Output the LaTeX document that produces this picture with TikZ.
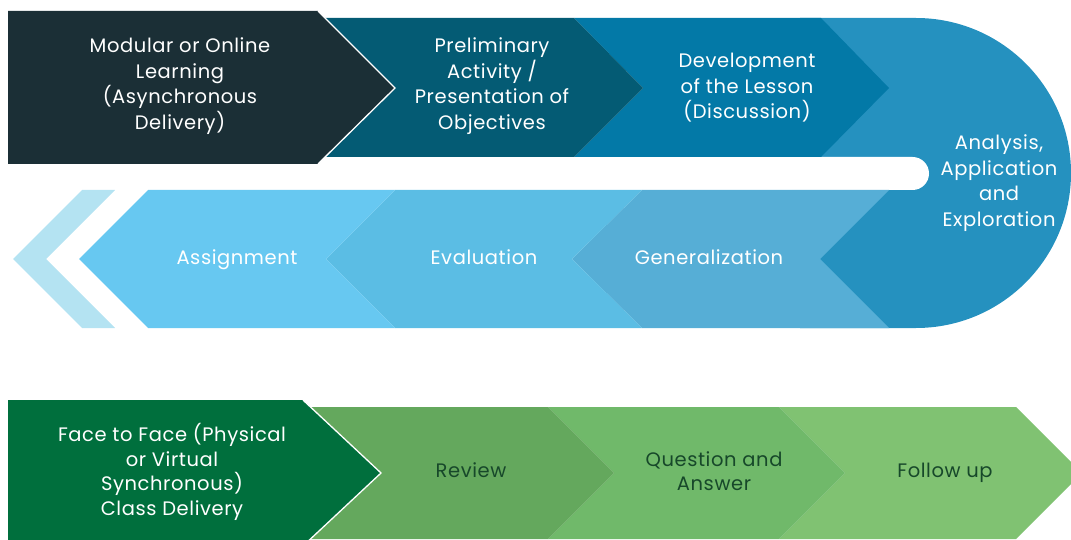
\documentclass[tikz,border=0pt]{standalone}
\usepackage{fontspec}
\setmainfont{Poppins}[LetterSpace=3]
\definecolor{cDark}{HTML}{1B2F36}
\definecolor{cTeal}{HTML}{045B74}
\definecolor{cBlue}{HTML}{0379A7}
\definecolor{cU}{HTML}{2591BF}
\definecolor{cGen}{HTML}{56AED6}
\definecolor{cEval}{HTML}{5BBDE4}
\definecolor{cAssn}{HTML}{67C8F1}
\definecolor{cLight}{HTML}{B4E3F2}
\definecolor{cGreenD}{HTML}{006F3D}
\definecolor{cRev}{HTML}{64A85D}
\definecolor{cQA}{HTML}{70B96A}
\definecolor{cFol}{HTML}{80C272}
\definecolor{cTxtG}{HTML}{17482A}
\tikzset{
  lbl/.style={align=center, text=white, font=\fontsize{19.5}{25.5}\selectfont, inner sep=0pt},
  glbl/.style={lbl, text=cTxtG},
  one/.style={anchor=base},
  edge/.style={draw=white, line width=1.3pt, line join=miter},
}
\begin{document}
\begin{tikzpicture}[x=1pt,y=-1pt]
\useasboundingbox (0,0) rectangle (1071,540);
\clip (0,0) rectangle (1071,540);
% U-shaped turn
\fill[cU] (800,18) -- (916,18) arc[start angle=-90, end angle=90, radius=155] -- (800,328) -- cycle;
% white gap bar
\fill[white, rounded corners=16.5pt] (780,157) rectangle (929,190);
% top band
\fill[cBlue] (574,18) -- (821,18) -- (889,88) -- (821,157) -- (574,157) -- (643,88) -- cycle;
\fill[cTeal] (310,18) -- (574,18) -- (643,88) -- (574,157) -- (310,157) -- cycle;
\fill[cDark] (8,11) -- (318,11) -- (395,88) -- (318,164) -- (8,164) -- cycle;
\draw[edge] (318,11) -- (395,88) -- (318,164);
% bottom band
\fill[cGen] (642,190) -- (889,190) -- (820,259) -- (889,328) -- (642,328) -- (572,259) -- cycle;
\fill[cEval] (395,190) -- (642,190) -- (572,259) -- (642,328) -- (395,328) -- (326,259) -- cycle;
\fill[cAssn] (148,190) -- (395,190) -- (326,259) -- (395,328) -- (148,328) -- (79,259) -- cycle;
\fill[cLight] (82,190) -- (115,190) -- (46,259) -- (115,328) -- (82,328) -- (13,259) -- cycle;
% green row
\fill[cFol] (779,407) -- (1016,407) -- (1082,473) -- (1016,539) -- (779,539) -- (845,473) -- cycle;
\fill[cQA] (548,407) -- (779,407) -- (845,473) -- (779,539) -- (548,539) -- (614,473) -- cycle;
\fill[cRev] (300,407) -- (548,407) -- (614,473) -- (548,539) -- (300,539) -- cycle;
\fill[cGreenD] (8,400) -- (303,400) -- (381,473) -- (303,546) -- (8,546) -- cycle;
\draw[edge] (303,400) -- (381,473) -- (303,546);
% labels
\node[lbl] (modular) at (180,86) {Modular or Online\\Learning\\(Asynchronous\\Delivery)};
\node[lbl] (prelim) at (492,86) {Preliminary\\Activity /\\Presentation of\\Objectives};
\node[lbl] (develop) at (747,88) {Development\\of the Lesson\\(Discussion)};
\node[lbl] (analysis) at (999,183) {Analysis,\\Application\\and\\Exploration};
\node[lbl, one] (general) at (709,265) {Generalization};
\node[lbl, one] (eval) at (484,265) {Evaluation};
\node[lbl, one] (assign) at (237,265) {Assignment};
\node[lbl, font=\fontsize{19.5}{24.5}\selectfont] (face) at (172,472) {Face to Face (Physical\\or Virtual\\Synchronous)\\Class Delivery};
\node[glbl, one] (review) at (471,477) {Review};
\node[glbl, font=\fontsize{19.5}{24}\selectfont] (qa) at (714,471) {Question and\\Answer};
\node[glbl, one] (follow) at (945,477) {Follow up};
\end{tikzpicture}
\end{document}
